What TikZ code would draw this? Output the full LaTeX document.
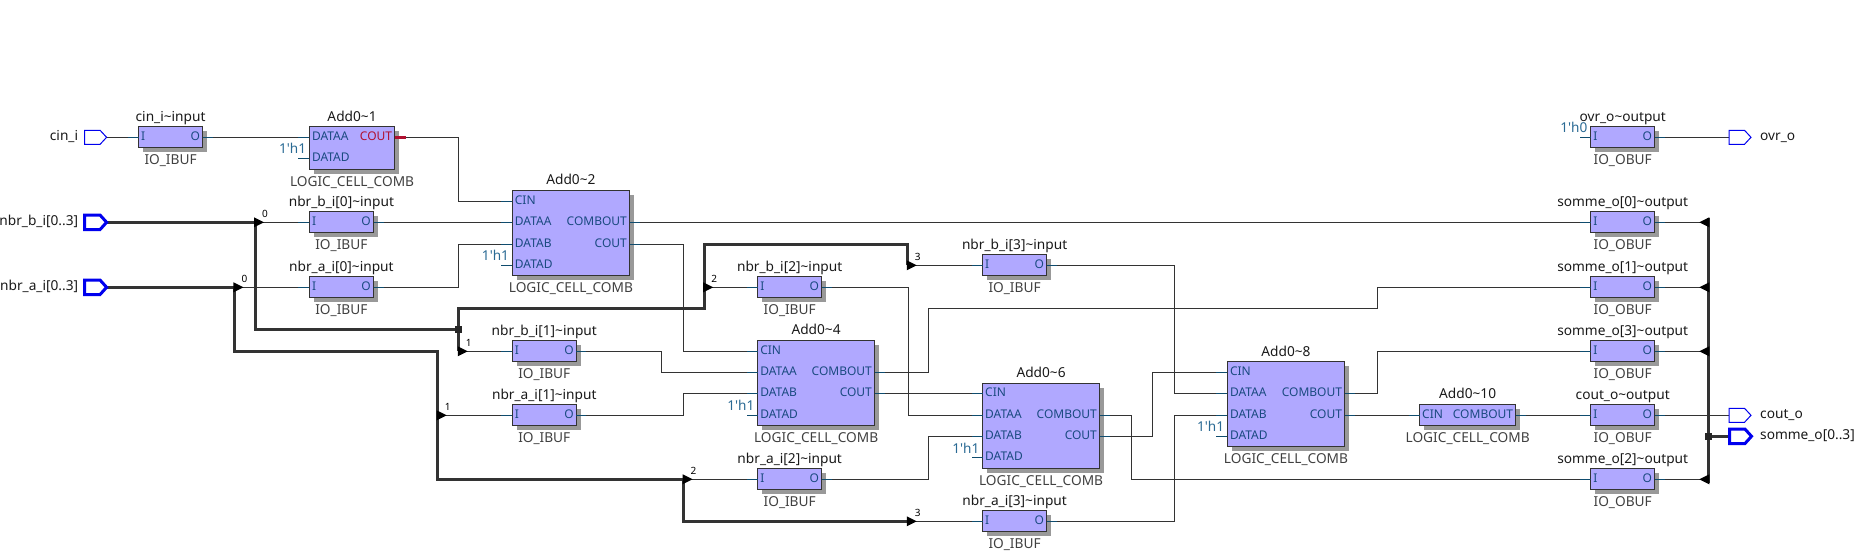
\documentclass[tikz,border=0pt]{standalone}
\usepackage{fontspec}
\setmainfont{Noto Sans}
\usetikzlibrary{backgrounds,shadows,calc}
\definecolor{cellfill}{HTML}{B0A8FF}
\definecolor{shadowgray}{HTML}{999999}
\definecolor{wirecol}{HTML}{333333}
\definecolor{pincol}{HTML}{0F4C6E}
\definecolor{pintext}{HTML}{1A4A80}
\definecolor{constcol}{HTML}{2A6A94}
\definecolor{portblue}{HTML}{0000EE}
\definecolor{redpin}{HTML}{B01030}
\newcommand{\tl}{\textasciitilde}
\newcommand{\qq}{\textquotesingle}
\tikzset{
  x=1pt,y=-1pt,
  cellnode/.style={draw=wirecol,line width=0.9pt,fill=cellfill,inner sep=0pt,outer sep=0pt,anchor=north west,
     general shadow={shadow xshift=4.5pt,shadow yshift=-4.5pt,fill=shadowgray}},
  toplabel/.style={font=\fontsize{13.7}{14}\selectfont,text=black!90,inner sep=0pt,text height=10pt,text depth=3.4pt},
  botlabel/.style={font=\fontsize{13.7}{14}\selectfont,text=black!75,inner sep=0pt,text height=10pt,text depth=3.4pt},
  pinlabel/.style={font=\fontsize{12}{13}\selectfont,text=pintext,inner sep=0pt},
  redlabel/.style={font=\fontsize{12}{13}\selectfont,text=redpin,inner sep=0pt},
  constlabel/.style={font=\fontsize{13.6}{15}\selectfont,text=constcol,inner sep=0pt,anchor=east},
  portlabel/.style={font=\fontsize{13.7}{14}\selectfont,text=black!90,inner sep=0pt,text height=10pt,text depth=3.4pt},
  taplabel/.style={font=\fontsize{10}{11}\selectfont,text=black,inner sep=0pt},
  wire/.style={draw=wirecol,line width=0.95pt},
  bus/.style={draw=wirecol,line width=3pt},
  pinstub/.style={draw=pincol,line width=0.95pt},
  redstub/.style={draw=redpin,line width=2.6pt},
  portthin/.style={draw=portblue,line width=1pt,fill=white},
  portthick/.style={draw=portblue,line width=3pt,fill=white,line join=miter},
}
% name, x1, ytop, x2, ybottom, top label, bottom label
\newcommand{\cellbox}[7]{%
  \pgfmathsetmacro{\cw}{#4-#2}\pgfmathsetmacro{\ch}{#5-#3}%
  \node[cellnode,minimum width=\cw pt,minimum height=\ch pt] (#1) at (#2,#3) {};
  \node[toplabel] (#1-top) at ($(#1.north)+(0,-8.9)$) {#6};
  \node[botlabel] (#1-bot) at ($(#1.south)+(0,13.7)$) {#7};
}
% box, pin, y, text
\newcommand{\pinL}[4]{%
  \coordinate (#1-#2) at (#1.west |- 0,#3);
  \draw[pinstub] (#1-#2) -- ++(-11,0);
  \node[pinlabel,anchor=west] (#1-#2-t) at ($(#1-#2)+(2.5,-1.2)$) {#4};
}
\newcommand{\pinR}[4]{%
  \coordinate (#1-#2) at (#1.east |- 0,#3);
  \draw[pinstub] (#1-#2) -- ++(10,0);
  \node[pinlabel,anchor=east] (#1-#2-t) at ($(#1-#2)+(-2.5,-1.2)$) {#4};
}
% constant on a pin
\newcommand{\const}[2]{\node[constlabel] (#1-c) at ($(#1)+(-3,-9.6)$) {1\qq h#2};}
% port: name, style, x1, y, hw
\newcommand{\port}[5]{%
  \draw[#2] (#3,#4-#5) -- ++(15.5,0) -- ++(6.5,#5) -- ++(-6.5,#5) -- ++(-15.5,0) -- cycle;
  \coordinate (#1-w) at (#3,#4);
  \coordinate (#1-e) at (#3+22,#4);
}
% tap: name, x, y, label
\newcommand{\tapR}[4]{%
  \coordinate (#1) at (#2,#3);
  \node[taplabel] (#1-l) at ($(#1)+(10,-8.5)$) {#4};
}
\newcommand{\headR}[1]{\fill[black] ($(#1)+(-1,-5)$) -- ++(10,5) -- ++(-10,5) -- cycle;}
\newcommand{\headL}[1]{\fill[black] ($(#1)+(1,-5)$) -- ++(-10,5) -- ++(10,5) -- cycle;}
\newcommand{\ibuf}[5]{% name x1 wirey top label
  \pgfmathsetmacro{\yt}{#3-10.6}\pgfmathsetmacro{\yb}{#3+10.4}\pgfmathsetmacro{\xr}{#2+64.2}%
  \cellbox{#1}{#2}{\yt}{\xr}{\yb}{#4}{#5}
  \pinL{#1}{I}{#3}{I}
  \pinR{#1}{O}{#3}{O}
}
\begin{document}
\begin{tikzpicture}
\useasboundingbox (0,0) rectangle (1861,559);

% ---------- cells
\ibuf{icin}{138.5}{137.3}{cin\_i\tl input}{IO\_IBUF}
\ibuf{ib0}{309.3}{222.3}{nbr\_b\_i[0]\tl input}{IO\_IBUF}
\ibuf{ia0}{309.3}{287.3}{nbr\_a\_i[0]\tl input}{IO\_IBUF}
\ibuf{ib1}{512.2}{351.3}{nbr\_b\_i[1]\tl input}{IO\_IBUF}
\ibuf{ia1}{512.2}{415.3}{nbr\_a\_i[1]\tl input}{IO\_IBUF}
\ibuf{ib2}{757.6}{287.3}{nbr\_b\_i[2]\tl input}{IO\_IBUF}
\ibuf{ia2}{757.6}{479.3}{nbr\_a\_i[2]\tl input}{IO\_IBUF}
\ibuf{ib3}{982.5}{265.3}{nbr\_b\_i[3]\tl input}{IO\_IBUF}
\ibuf{ia3}{982.5}{521.3}{nbr\_a\_i[3]\tl input}{IO\_IBUF}

\ibuf{oovr}{1590.6}{137.3}{ovr\_o\tl output}{IO\_OBUF}
\ibuf{os0}{1590.6}{222.3}{somme\_o[0]\tl output}{IO\_OBUF}
\ibuf{os1}{1590.6}{287.3}{somme\_o[1]\tl output}{IO\_OBUF}
\ibuf{os3}{1590.6}{351.3}{somme\_o[3]\tl output}{IO\_OBUF}
\ibuf{ocout}{1590.6}{415.3}{cout\_o\tl output}{IO\_OBUF}
\ibuf{os2}{1590.6}{479.3}{somme\_o[2]\tl output}{IO\_OBUF}

% Add0~1
\cellbox{a1}{309.3}{126.7}{394.8}{169.3}{Add0\tl 1}{LOGIC\_CELL\_COMB}
\pinL{a1}{DATAA}{137.3}{DATAA}
\pinL{a1}{DATAD}{158.3}{DATAD}
\coordinate (a1-COUT) at (a1.east |- 0,137.3);
\draw[redstub] (a1-COUT) -- ++(11,0);
\node[redlabel,anchor=east] (a1-COUT-t) at ($(a1-COUT)+(-2.5,-1.2)$) {COUT};
\const{a1-DATAD}{1}
% Add0~2
\cellbox{a2}{512.2}{190.3}{629.6}{275.3}{Add0\tl 2}{LOGIC\_CELL\_COMB}
\pinL{a2}{CIN}{201.3}{CIN}
\pinL{a2}{DATAA}{222.3}{DATAA}
\pinL{a2}{DATAB}{244.3}{DATAB}
\pinL{a2}{DATAD}{265.3}{DATAD}
\pinR{a2}{COMBOUT}{222.3}{COMBOUT}
\pinR{a2}{COUT}{244.3}{COUT}
\const{a2-DATAD}{1}
% Add0~4
\cellbox{a4}{757.6}{340.3}{874.6}{425.7}{Add0\tl 4}{LOGIC\_CELL\_COMB}
\pinL{a4}{CIN}{351.3}{CIN}
\pinL{a4}{DATAA}{372.3}{DATAA}
\pinL{a4}{DATAB}{393.3}{DATAB}
\pinL{a4}{DATAD}{415.3}{DATAD}
\pinR{a4}{COMBOUT}{372.3}{COMBOUT}
\pinR{a4}{COUT}{393.3}{COUT}
\const{a4-DATAD}{1}
% Add0~6
\cellbox{a6}{982.5}{383.3}{1099.6}{468.3}{Add0\tl 6}{LOGIC\_CELL\_COMB}
\pinL{a6}{CIN}{393.3}{CIN}
\pinL{a6}{DATAA}{415.3}{DATAA}
\pinL{a6}{DATAB}{436.3}{DATAB}
\pinL{a6}{DATAD}{457.7}{DATAD}
\pinR{a6}{COMBOUT}{415.3}{COMBOUT}
\pinR{a6}{COUT}{436.3}{COUT}
\const{a6-DATAD}{1}
% Add0~8
\cellbox{a8}{1227.3}{361.7}{1344.7}{446.7}{Add0\tl 8}{LOGIC\_CELL\_COMB}
\pinL{a8}{CIN}{372.3}{CIN}
\pinL{a8}{DATAA}{393.3}{DATAA}
\pinL{a8}{DATAB}{415.3}{DATAB}
\pinL{a8}{DATAD}{436.3}{DATAD}
\pinR{a8}{COMBOUT}{393.3}{COMBOUT}
\pinR{a8}{COUT}{415.3}{COUT}
\const{a8-DATAD}{1}
% Add0~10
\cellbox{a10}{1419.5}{404.3}{1515.8}{425.7}{Add0\tl 10}{LOGIC\_CELL\_COMB}
\pinL{a10}{CIN}{415.3}{CIN}
\pinR{a10}{COMBOUT}{415.3}{COMBOUT}

\const{oovr-I}{0}

% ---------- ports
\port{pcin}{portthin}{84.6}{137.3}{7}
\port{pb}{portthick}{84.6}{222.3}{7.2}
\port{pa}{portthick}{84.6}{287.3}{7.2}
\port{povr}{portthin}{1729}{137.3}{7}
\port{pcout}{portthin}{1729}{415.3}{7}
\port{ps}{portthick}{1729.5}{436.3}{7.2}
\node[portlabel,anchor=east] (pcin-t) at (78.3,137.5) {cin\_i};
\node[portlabel,anchor=east] (pb-t) at (78.3,222.5) {nbr\_b\_i[0..3]};
\node[portlabel,anchor=east] (pa-t) at (78.3,287.5) {nbr\_a\_i[0..3]};
\node[portlabel,anchor=west] (povr-t) at (1760,137.5) {ovr\_o};
\node[portlabel,anchor=west] (pcout-t) at (1760,415.5) {cout\_o};
\node[portlabel,anchor=west] (ps-t) at (1760,436.5) {somme\_o[0..3]};

% ---------- bus taps
\tapR{tb0}{255}{222.3}{0}
\tapR{ta0}{234.4}{287.3}{0}
\tapR{tb1}{458.8}{351.3}{1}
\tapR{ta1}{437.7}{415.3}{1}
\tapR{tb2}{704.2}{287.3}{2}
\tapR{ta2}{683.6}{479.3}{2}
\tapR{tb3}{907.8}{265.3}{3}
\tapR{ta3}{907.8}{521.3}{3}
\coordinate (jb) at (458.8,329.3);
\coordinate (js) at (1708.3,436.3);
\coordinate (ts0) at (1708.3,222.3);
\coordinate (ts1) at (1708.3,287.3);
\coordinate (ts3) at (1708.3,351.3);
\coordinate (ts2) at (1708.3,479.3);

\begin{pgfonlayer}{background}
% thin wires
\draw[wire] (pcin-e) -- (icin-I);
\draw[wire] (icin-O) -- (a1-DATAA);
\draw[wire] (a1-COUT) -- ++(63.5,0) |- (a2-CIN);
\draw[wire] (tb0) -- (ib0-I);
\draw[wire] (ib0-O) -- (a2-DATAA);
\draw[wire] (ta0) -- (ia0-I);
\draw[wire] (ia0-O) -- ++(84.6,0) |- (a2-DATAB);
\draw[wire] (a2-COMBOUT) -- (os0-I);
\draw[wire] (a2-COUT) -- ++(54,0) |- (a4-CIN);
\draw[wire] (tb1) -- (ib1-I);
\draw[wire] (ib1-O) -- ++(84.9,0) |- (a4-DATAA);
\draw[wire] (ta1) -- (ia1-I);
\draw[wire] (ia1-O) -- ++(107,0) |- (a4-DATAB);
\draw[wire] (a4-COMBOUT) -- ++(53.8,0) |- (1377.4,308.3) |- (os1-I);
\draw[wire] (a4-COUT) -- (a6-CIN);
\draw[wire] (tb2) -- (ib2-I);
\draw[wire] (ib2-O) -- ++(86.2,0) |- (a6-DATAA);
\draw[wire] (ta2) -- (ia2-I);
\draw[wire] (ia2-O) -- ++(106.8,0) |- (a6-DATAB);
\draw[wire] (tb3) -- (ib3-I);
\draw[wire] (ib3-O) -- ++(128.1,0) |- (a8-DATAA);
\draw[wire] (ta3) -- (ia3-I);
\draw[wire] (ia3-O) -- ++(128.1,0) |- (a8-DATAB);
\draw[wire] (a6-COMBOUT) -- ++(32,0) |- (os2-I);
\draw[wire] (a6-COUT) -- ++(53,0) |- (a8-CIN);
\draw[wire] (a8-COMBOUT) -- ++(32.7,0) |- (os3-I);
\draw[wire] (a8-COUT) -- (a10-CIN);
\draw[wire] (a10-COMBOUT) -- (ocout-I);
\draw[wire] (oovr-O) -- (povr-w);
\draw[wire] (os0-O) -- (ts0);
\draw[wire] (os1-O) -- (ts1);
\draw[wire] (os3-O) -- (ts3);
\draw[wire] (os2-O) -- (ts2);
\draw[wire] (ocout-O) -- (pcout-w);
% buses
\draw[bus] (pb-e) -- (tb0) |- (jb);
\draw[bus] (jb) -- (tb1);
\draw[bus] (jb) |- (704.2,308.3) |- (907.8,244.3) -- (tb3);
\draw[bus] (pa-e) -- (ta0) |- (437.7,351.3) -- (437.7,479.3) -- (ta2) |- (ta3);
\draw[bus] ([yshift=4.3pt]ts0) -- ([yshift=-3.7pt]ts2);
\draw[bus] (js) -- (ps-w);
\end{pgfonlayer}

% ---------- heads and junctions
\foreach \t in {tb0,ta0,tb1,ta1,tb2,ta2,tb3,ta3}{\headR{\t}}
\foreach \t in {ts0,ts1,ts3,ts2}{\headL{\t}}
\fill[black!85] ($(jb)+(-3.5,-3.5)$) rectangle ($(jb)+(3.5,3.5)$);
\fill[black!85] ($(js)+(-3.5,-3.5)$) rectangle ($(js)+(3.5,3.5)$);
\end{tikzpicture}
\end{document}
